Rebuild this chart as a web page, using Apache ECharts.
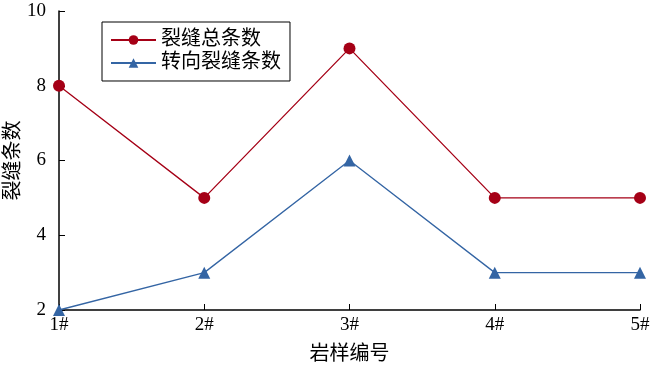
<!DOCTYPE html>
<html><head><meta charset="utf-8">
<script src="https://cdn.jsdelivr.net/npm/echarts@6/dist/echarts.min.js"></script>
<style>html,body{margin:0;padding:0;background:#fff}#c{width:650px;height:368px}</style>
</head><body><div id="c"></div>
<script>
var categories = ['1#','2#','3#','4#','5#'];
var totalCracks = [8,5,9,5,5];
var turnCracks = [2,3,6,3,3];
var seriesNames = ['裂缝总条数','转向裂缝条数'];
var FONT = '"Liberation Serif","Noto Sans CJK SC",serif';
var chart = echarts.init(document.getElementById('c'));
chart.setOption({
  animation:false,
  grid:{left:59,right:10,top:11,bottom:58,containLabel:false,outerBoundsMode:'none'},
  legend:{
    orient:'vertical', left:102, top:22, padding:[8,9,8,8], itemGap:3,
    itemWidth:45, itemHeight:12, borderColor:'#000', borderWidth:1,
    textStyle:{fontFamily:FONT,fontSize:20,color:'#000'},
    data:seriesNames
  },
  xAxis:{
    type:'category', data:categories, boundaryGap:false,
    name:'岩样编号', nameLocation:'middle', nameGap:35, nameMoveOverlap:false,
    nameTextStyle:{fontFamily:FONT,fontSize:20,color:'#000'},
    axisLine:{lineStyle:{color:'#000',width:1.5}},
    axisTick:{inside:true,length:6,lineStyle:{color:'#000'}},
    axisLabel:{fontFamily:FONT,fontSize:19,color:'#000',margin:6},
    splitLine:{show:false}
  },
  yAxis:{
    type:'value', min:2, max:10, interval:2,
    name:'裂缝条数', nameLocation:'middle', nameGap:35, nameMoveOverlap:false,
    nameTextStyle:{fontFamily:FONT,fontSize:20,color:'#000'},
    axisLine:{show:true,lineStyle:{color:'#000',width:1.5}},
    axisTick:{show:true,inside:true,length:6,lineStyle:{color:'#000'}},
    axisLabel:{fontFamily:FONT,fontSize:19,color:'#000',margin:13},
    splitLine:{show:false}
  },
  series:[
    {name:seriesNames[0],type:'line',data:totalCracks,symbol:'circle',symbolSize:12,
     itemStyle:{color:'#a50016'},lineStyle:{color:'#a50016',width:1.3}},
    {name:seriesNames[1],type:'line',data:turnCracks,symbol:'triangle',symbolSize:12,
     itemStyle:{color:'#3465a4'},lineStyle:{color:'#3465a4',width:1.3}}
  ]
});
</script></body></html>
